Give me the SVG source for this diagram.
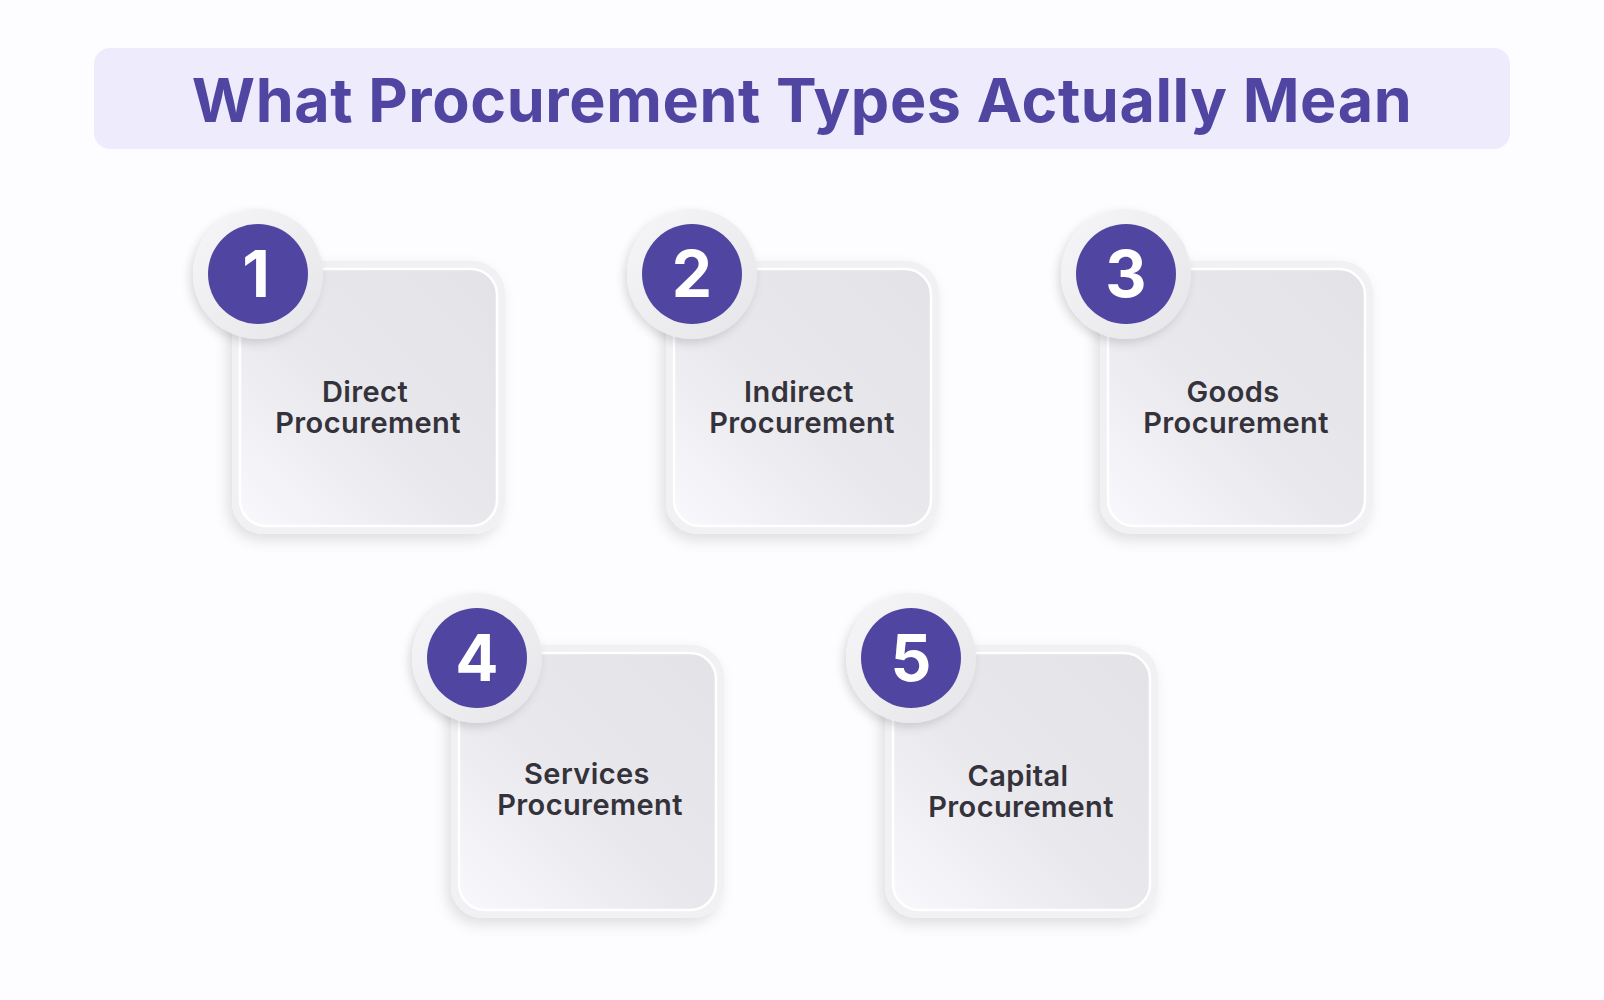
<svg xmlns="http://www.w3.org/2000/svg" width="1604" height="1000" viewBox="0 0 1604 1000">
<defs>
<style>
.title{font-family:Inter,"Open Sans","Liberation Sans",sans-serif;font-weight:700;font-size:61px;letter-spacing:0.6px;fill:#5046a1;text-anchor:middle}
.lbl{font-family:Inter,"Open Sans","Liberation Sans",sans-serif;font-weight:600;font-size:29px;letter-spacing:0.4px;fill:#34323a;text-anchor:middle}
.num{font-family:Inter,"Open Sans","Liberation Sans",sans-serif;font-weight:700;font-size:64px;fill:#ffffff;text-anchor:middle}
.frame{fill:#f1f1f4;filter:url(#sh)}
.face{fill:url(#fg);stroke:#ffffff;stroke-width:2.5}
.ring{fill:url(#rg);filter:url(#sh2)}
.dot{fill:#5046a1}
</style>
<linearGradient id="fg" x1="1" y1="0" x2="0" y2="1">
<stop offset="0" stop-color="#e2e2e7"/>
<stop offset="0.55" stop-color="#e9e8ed"/>
<stop offset="1" stop-color="#f9f8fc"/>
</linearGradient>
<linearGradient id="rg" x1="0" y1="0" x2="1" y2="1">
<stop offset="0" stop-color="#f6f6f8"/>
<stop offset="1" stop-color="#e6e6ea"/>
</linearGradient>
<filter id="sh" x="-20%" y="-20%" width="140%" height="140%">
<feDropShadow dx="-4" dy="6" stdDeviation="7" flood-color="#000" flood-opacity="0.12"/>
</filter>
<filter id="sh2" x="-30%" y="-30%" width="160%" height="160%">
<feDropShadow dx="-3" dy="4" stdDeviation="5" flood-color="#000" flood-opacity="0.14"/>
</filter>
</defs>
<rect width="1604" height="1000" fill="#fdfcfe"/>
<g id="title">
<rect x="94" y="48" width="1416" height="101" rx="16" fill="#eeebfc"/>
<text class="title" x="802" y="122">What Procurement Types Actually Mean</text>
</g>
<g id="connectors"></g>
<g id="node1" transform="translate(232,261)">
<rect class="frame" width="273" height="273" rx="32"/>
<rect class="face" x="8" y="8" width="257" height="257" rx="26"/>
<circle class="ring" cx="26" cy="13" r="65"/>
<circle class="dot" cx="26" cy="13" r="50"/>
<text class="num" x="24" y="36">1</text>
<text class="lbl" x="133" y="141">Direct</text>
<text class="lbl" x="136" y="172">Procurement</text>
</g>
<g id="node2" transform="translate(666,261)">
<rect class="frame" width="273" height="273" rx="32"/>
<rect class="face" x="8" y="8" width="257" height="257" rx="26"/>
<circle class="ring" cx="26" cy="13" r="65"/>
<circle class="dot" cx="26" cy="13" r="50"/>
<text class="num" x="26" y="36">2</text>
<text class="lbl" x="133" y="141">Indirect</text>
<text class="lbl" x="136" y="172">Procurement</text>
</g>
<g id="node3" transform="translate(1100,261)">
<rect class="frame" width="273" height="273" rx="32"/>
<rect class="face" x="8" y="8" width="257" height="257" rx="26"/>
<circle class="ring" cx="26" cy="13" r="65"/>
<circle class="dot" cx="26" cy="13" r="50"/>
<text class="num" x="26" y="36">3</text>
<text class="lbl" x="133" y="141">Goods</text>
<text class="lbl" x="136" y="172">Procurement</text>
</g>
<g id="node4" transform="translate(451,645)">
<rect class="frame" width="273" height="273" rx="32"/>
<rect class="face" x="8" y="8" width="257" height="257" rx="26"/>
<circle class="ring" cx="26" cy="13" r="65"/>
<circle class="dot" cx="26" cy="13" r="50"/>
<text class="num" x="26" y="36">4</text>
<text class="lbl" x="136" y="139">Services</text>
<text class="lbl" x="139" y="170">Procurement</text>
</g>
<g id="node5" transform="translate(885,645)">
<rect class="frame" width="273" height="273" rx="32"/>
<rect class="face" x="8" y="8" width="257" height="257" rx="26"/>
<circle class="ring" cx="26" cy="13" r="65"/>
<circle class="dot" cx="26" cy="13" r="50"/>
<text class="num" x="26" y="36">5</text>
<text class="lbl" x="133" y="141">Capital</text>
<text class="lbl" x="136" y="172">Procurement</text>
</g>
</svg>
